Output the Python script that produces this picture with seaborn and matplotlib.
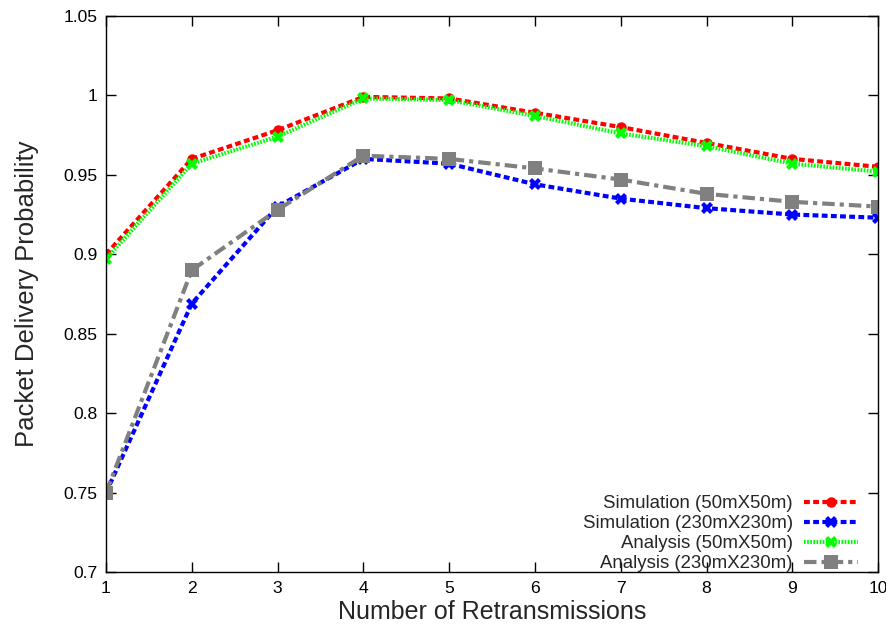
import numpy as np
import pandas as pd
import matplotlib
matplotlib.use("Agg")
import matplotlib.pyplot as plt
import seaborn as sns

# data
retrans = [1, 2, 3, 4, 5, 6, 7, 8, 9, 10]
sim_50 = [0.900, 0.960, 0.978, 0.999, 0.998, 0.989, 0.980, 0.970, 0.960, 0.955]
sim_230 = [0.750, 0.869, 0.930, 0.960, 0.957, 0.944, 0.935, 0.929, 0.925, 0.923]
ana_50 = [0.897, 0.957, 0.974, 0.998, 0.997, 0.987, 0.976, 0.968, 0.957, 0.952]
ana_230 = [0.750, 0.890, 0.928, 0.962, 0.960, 0.954, 0.947, 0.938, 0.933, 0.930]

names = ["Simulation (50mX50m)", "Simulation (230mX230m)",
         "Analysis (50mX50m)", "Analysis (230mX230m)"]
series = [sim_50, sim_230, ana_50, ana_230]

df = pd.concat([pd.DataFrame({"x": retrans, "y": s, "series": n})
                for n, s in zip(names, series)], ignore_index=True)

sns.set_style("ticks")
plt.rcParams['font.family'] = ['Liberation Sans', 'DejaVu Sans']

palette = {names[0]: "#ff0000", names[1]: "#0000ff",
           names[2]: "#00ff00", names[3]: "#808080"}
dashes = {names[0]: (1.4, 0.8), names[1]: (1.4, 0.8),
          names[2]: (0.4, 0.35), names[3]: (3, 1.2, 1, 1.2)}
markers = {names[0]: "o", names[1]: "X", names[2]: "X", names[3]: "s"}

fig, ax = plt.subplots(figsize=(8.87, 6.31), dpi=100)
fig.subplots_adjust(left=0.1195, right=0.99, top=0.975, bottom=0.093)

sns.lineplot(data=df, x="x", y="y", hue="series", style="series",
             palette=palette, dashes=dashes, markers=markers,
             linewidth=3, markersize=7.5, markeredgewidth=0, ax=ax)

ax.set_xlim(1, 10)
ax.set_ylim(0.7, 1.05)
ax.set_xticks(retrans)
yt = [0.7, 0.75, 0.8, 0.85, 0.9, 0.95, 1.0, 1.05]
ax.set_yticks(yt)
ax.set_yticklabels(["0.7", "0.75", "0.8", "0.85", "0.9", "0.95", "1", "1.05"])
ax.tick_params(direction="in", length=7, width=1, top=True, right=True,
               labelsize=12.6, pad=6, colors="black")
for sp in ax.spines.values():
    sp.set_visible(True)
    sp.set_linewidth(1)
    sp.set_color("black")

ax.set_xlabel("Number of Retransmissions", fontsize=18, labelpad=3)
ax.set_ylabel("Packet Delivery Probability", fontsize=18.5, labelpad=18)

handles, labels = ax.get_legend_handles_labels()
for ln in list(ax.lines) + list(handles):
    if ln.get_marker() == "s":
        ln.set_markersize(9.5)
    elif ln.get_marker() == "X":
        ln.set_markersize(9)
ax.legend(handles, labels, loc="lower right", bbox_to_anchor=(0.974, 0.0),
          frameon=False, markerfirst=False,
          fontsize=13.4, handlelength=2.9, labelspacing=0.16,
          borderaxespad=0, handletextpad=0.6, borderpad=0)

fig.savefig("out.png", dpi=100)
